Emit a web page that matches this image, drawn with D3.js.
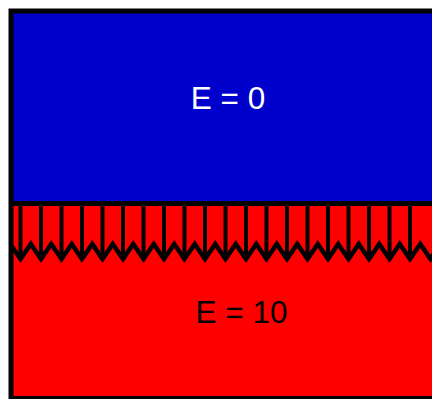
<!DOCTYPE html>
<html>
<head>
<meta charset="utf-8">
<script src="https://cdn.jsdelivr.net/npm/d3@7"></script>
<style>
  html, body { margin: 0; padding: 0; background: #fff; }
  svg { display: block; }
</style>
</head>
<body>
<svg id="chart" width="432" height="399"></svg>
<script>
// ---- data ----
const regions = ["upper", "lower"];
const energies = [0, 10];
const regionColors = ["#0000cc", "#ff0000"];
const labelColors = ["#ffffff", "#000000"];
const toothIndex = d3.range(20);          // 20 teeth along the interface
const zigIndex = d3.range(44);            // zigzag vertices (half-tooth steps)

// ---- layout ----
const svg = d3.select("#chart");
const frameLeft = 11, frameTop = 11, frameRight = 446, frameBottom = 398.5;
const interfaceY = 203.5;

// scales
const x = d3.scaleLinear().domain([0, 20]).range([20.5, 430.5]);
const regionY = {upper: [frameTop, interfaceY], lower: [interfaceY, frameBottom]};
const depth = d3.scaleLinear().domain([0, 1]).range([interfaceY, 259]); // tooth depth

// clip to frame interior
svg.append("clipPath").attr("id", "inner")
  .append("rect")
  .attr("x", frameLeft).attr("y", frameTop)
  .attr("width", frameRight - frameLeft).attr("height", frameBottom - frameTop);

const g = svg.append("g").attr("clip-path", "url(#inner)");

// region fills
g.selectAll("rect.region")
  .data(regions)
  .join("rect")
  .attr("class", "region")
  .attr("x", frameLeft)
  .attr("width", frameRight - frameLeft)
  .attr("y", d => regionY[d][0])
  .attr("height", d => regionY[d][1] - regionY[d][0])
  .attr("fill", (d, i) => regionColors[i]);

// vertical teeth lines
g.selectAll("line.tooth")
  .data(toothIndex)
  .join("line")
  .attr("class", "tooth")
  .attr("x1", d => x(d)).attr("x2", d => x(d))
  .attr("y1", depth(0)).attr("y2", depth(1))
  .attr("stroke", "#000").attr("stroke-width", 4);

// zigzag
const zig = d3.line()
  .x(j => x(j / 2 - 0.5))
  .y(j => j % 2 === 0 ? depth(0.73) : depth(1));
g.append("path")
  .datum(zigIndex)
  .attr("d", zig)
  .attr("fill", "none")
  .attr("stroke", "#000")
  .attr("stroke-width", 4.5)
  .attr("stroke-linejoin", "miter");

// interface line
g.append("line")
  .attr("x1", frameLeft).attr("x2", frameRight)
  .attr("y1", interfaceY).attr("y2", interfaceY)
  .attr("stroke", "#000").attr("stroke-width", 5);

// frame
svg.append("rect")
  .attr("x", frameLeft).attr("y", frameTop)
  .attr("width", frameRight - frameLeft).attr("height", frameBottom - frameTop)
  .attr("fill", "none").attr("stroke", "#000").attr("stroke-width", 5);

// labels
const labelPos = [[228, 109], [241.5, 323]];
svg.selectAll("text.label")
  .data(energies)
  .join("text")
  .attr("class", "label")
  .attr("x", (d, i) => labelPos[i][0])
  .attr("y", (d, i) => labelPos[i][1])
  .attr("text-anchor", "middle")
  .attr("font-family", "Liberation Sans, Arial, sans-serif")
  .attr("font-size", 31.5)
  .attr("fill", (d, i) => labelColors[i])
  .text(d => "E = " + d);
</script>
</body>
</html>
